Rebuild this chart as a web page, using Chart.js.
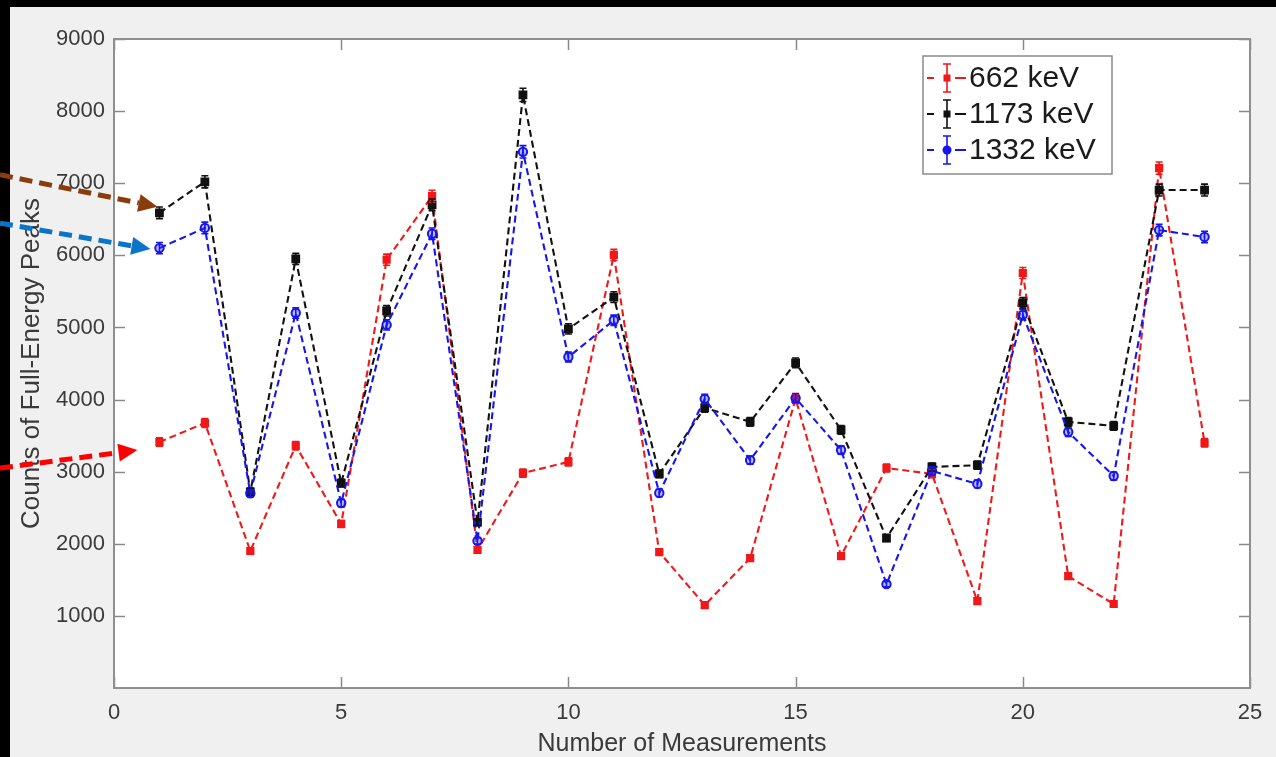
<!DOCTYPE html>
<html>
<head>
<meta charset="utf-8">
<script src="https://cdn.jsdelivr.net/npm/chart.js@4/dist/chart.umd.min.js"></script>
<style>
  html,body{margin:0;padding:0;background:#000;}
  #wrap{width:1276px;height:757px;position:relative;}
  canvas{display:block;}
</style>
</head>
<body>
<div id="wrap"><canvas id="c" width="1276" height="757"></canvas></div>
<script>
// ---------------- data ----------------
const measurements = [1,2,3,4,5,6,7,8,9,10,11,12,13,14,15,16,17,18,19,20,21,22,23,24];
const seriesLabels = ['662 keV','1173 keV','1332 keV'];
const counts662  = [3410,3675,1900,3360,2275,5940,6820,1915,2980,3135,6005,1885,1150,1800,4010,1830,3050,2970,1205,5755,1550,1165,7210,3400];
const counts1173 = [6590,7020,2720,5950,2840,5230,6700,2300,8225,4980,5420,2970,3885,3690,4510,3580,2080,3065,3090,5340,3690,3635,6905,6905];
const counts1332 = [6100,6380,2700,5200,2565,5035,6300,2040,7435,4590,5100,2705,4010,3160,4020,3300,1440,3010,2830,5175,3550,2940,6350,6255];
const err662  = [58,61,44,58,48,77,83,44,55,56,77,43,34,42,63,43,55,54,35,76,39,34,85,58];
const err1173 = [81,84,52,77,53,72,82,48,91,71,74,54,62,61,67,60,46,55,56,73,61,60,83,83];
const err1332 = [78,80,52,72,51,71,79,45,86,68,71,52,63,56,63,57,38,55,53,72,60,54,80,79];
const xTickValues = [0,5,10,15,20,25];
const yTickValues = [1000,2000,3000,4000,5000,6000,7000,8000,9000];
const xTitle = 'Number of Measurements';
const yTitle = 'Counts of Full-Energy Peaks';

const FONT = '"Liberation Sans", Arial, Helvetica, sans-serif';
const colors = ['#f01818', '#111111', '#1515f0'];

function pts(arr){ return measurements.map((m,i)=>({x:m, y:arr[i]})); }
const errs = [err662, err1173, err1332];

// --------------- plugins ---------------
const bgPlugin = {
  id:'bg',
  beforeDraw(chart){
    const ctx = chart.ctx, a = chart.chartArea;
    ctx.save();
    ctx.fillStyle = '#000';
    ctx.fillRect(0,0,chart.width,chart.height);
    ctx.fillStyle = '#f0f0f0';
    ctx.fillRect(10,7,chart.width-10,chart.height-7);
    ctx.fillStyle = '#ffffff';
    ctx.fillRect(a.left,a.top,a.right-a.left,a.bottom-a.top);
    ctx.restore();
  },
  beforeDatasetsDraw(chart){
    const ctx = chart.ctx, a = chart.chartArea;
    const xs = chart.scales.x, ys = chart.scales.y;
    ctx.save();
    ctx.strokeStyle = '#8a8a8a';
    ctx.lineWidth = 1.5;
    ctx.beginPath();
    xTickValues.forEach(v=>{
      const px = Math.round(xs.getPixelForValue(v))+0.5;
      ctx.moveTo(px,a.bottom); ctx.lineTo(px,a.bottom-11);
      ctx.moveTo(px,a.top); ctx.lineTo(px,a.top+11);
    });
    yTickValues.forEach(v=>{
      const py = Math.round(ys.getPixelForValue(v))+0.5;
      ctx.moveTo(a.left,py); ctx.lineTo(a.left+11,py);
      ctx.moveTo(a.right,py); ctx.lineTo(a.right-11,py);
    });
    ctx.stroke();
    ctx.lineWidth = 2;
    ctx.strokeStyle = '#8f8f8f';
    ctx.strokeRect(a.left,a.top,a.right-a.left,a.bottom-a.top);
    ctx.restore();
  }
};

const errPlugin = {
  id:'errbars',
  afterDatasetsDraw(chart){
    const ctx = chart.ctx;
    const xs = chart.scales.x, ys = chart.scales.y;
    ctx.save();
    chart.data.datasets.forEach((ds,di)=>{
      ctx.strokeStyle = colors[di];
      ctx.lineWidth = 1.6;
      ctx.beginPath();
      ds.data.forEach((p,i)=>{
        const px = xs.getPixelForValue(p.x);
        const y1 = ys.getPixelForValue(p.y - errs[di][i]);
        const y2 = ys.getPixelForValue(p.y + errs[di][i]);
        ctx.moveTo(px,y1); ctx.lineTo(px,y2);
        ctx.moveTo(px-3.5,y1); ctx.lineTo(px+3.5,y1);
        ctx.moveTo(px-3.5,y2); ctx.lineTo(px+3.5,y2);
      });
      ctx.stroke();
    });
    ctx.restore();
  }
};

const legendPlugin = {
  id:'mlegend',
  afterDraw(chart){
    const ctx = chart.ctx;
    const bx = 923, by = 56, bw = 189, bh = 118;
    ctx.save();
    ctx.fillStyle = '#fff';
    ctx.fillRect(bx,by,bw,bh);
    ctx.strokeStyle = '#8a8a8a';
    ctx.lineWidth = 1.5;
    ctx.strokeRect(bx,by,bw,bh);
    const rows = [78,114,150];
    seriesLabels.forEach((lab,i)=>{
      const cy = rows[i];
      const c = colors[i];
      ctx.strokeStyle = c; ctx.fillStyle = c;
      ctx.lineWidth = 2.2;
      ctx.beginPath();
      ctx.moveTo(927,cy); ctx.lineTo(934,cy);
      ctx.moveTo(955,cy); ctx.lineTo(966,cy);
      ctx.stroke();
      ctx.lineWidth = 1.6;
      ctx.beginPath();
      ctx.moveTo(947,cy-14); ctx.lineTo(947,cy+14);
      ctx.moveTo(943,cy-14); ctx.lineTo(951,cy-14);
      ctx.moveTo(943,cy+14); ctx.lineTo(951,cy+14);
      ctx.stroke();
      ctx.beginPath();
      if(i===2){ ctx.arc(947,cy,4.5,0,Math.PI*2); ctx.fill(); }
      else { ctx.fillRect(943.5,cy-3.5,7,7); }
      ctx.fillStyle = '#1a1a1a';
      ctx.font = '30px ' + FONT;
      ctx.textBaseline = 'middle';
      ctx.textAlign = 'left';
      ctx.fillText(lab, 969, cy+1);
    });
    ctx.restore();
  }
};

function drawArrow(ctx, x0,y0,x1,y1,color){
  const dx = x1-x0, dy = y1-y0, L = Math.hypot(dx,dy);
  const ux = dx/L, uy = dy/L;
  const hl = 19, hw = 9;
  const bxp = x1-ux*hl, byp = y1-uy*hl;
  ctx.save();
  ctx.strokeStyle = color; ctx.fillStyle = color;
  ctx.lineWidth = 5;
  ctx.setLineDash([13,7]);
  ctx.beginPath(); ctx.moveTo(x0,y0); ctx.lineTo(bxp,byp); ctx.stroke();
  ctx.setLineDash([]);
  ctx.beginPath();
  ctx.moveTo(x1,y1);
  ctx.lineTo(bxp - uy*hw, byp + ux*hw);
  ctx.lineTo(bxp + uy*hw, byp - ux*hw);
  ctx.closePath(); ctx.fill();
  ctx.restore();
}

const arrowPlugin = {
  id:'arrows',
  afterDraw(chart){
    const ctx = chart.ctx;
    const xs = chart.scales.x, ys = chart.scales.y;
    const px = xs.getPixelForValue(measurements[0]);
    const pBlack = ys.getPixelForValue(counts1173[0]);
    const pBlue  = ys.getPixelForValue(counts1332[0]);
    const pRed   = ys.getPixelForValue(counts662[0]);
    drawArrow(ctx, 0, pBlack-38, px-2, pBlack-6, '#8a3d0c');
    drawArrow(ctx, 0, pBlue-25, px-9, pBlue+1, '#0a74c8');
    drawArrow(ctx, 0, pRed+26, px-22, pRed+8, '#ff0000');
  }
};

// --------------- chart ---------------
function mkDs(i, arr, style, radius, order){
  return {
    label: seriesLabels[i],
    data: pts(arr),
    borderColor: colors[i],
    backgroundColor: colors[i],
    borderWidth: 2.1,
    borderDash: [7,4],
    pointStyle: style,
    pointRadius: radius,
    pointBorderWidth: 2,
    pointBorderColor: colors[i],
    pointBackgroundColor: style==='circle' ? 'rgba(60,60,255,0.35)' : colors[i],
    tension: 0,
    order: order
  };
}

new Chart(document.getElementById('c'), {
  type:'line',
  data:{
    datasets:[
      mkDs(0, counts662, 'rect', 4.4, 2),
      mkDs(1, counts1173, 'rect', 4.8, 1),
      mkDs(2, counts1332, 'circle', 4.2, 0)
    ]
  },
  options:{
    responsive:false,
    animation:false,
    devicePixelRatio:1,
    layout:{padding:{left:0, top:39, right:26, bottom:0}},
    plugins:{legend:{display:false}, tooltip:{enabled:false}},
    scales:{
      x:{
        type:'linear', min:0, max:25,
        afterBuildTicks(s){ s.ticks = xTickValues.map(v=>({value:v})); },
        afterFit(s){ s.height = 69; },
        grid:{display:false, drawTicks:false},
        border:{display:false},
        ticks:{padding:12, color:'#3a3a3a', font:{family:FONT, size:22}, maxRotation:0, autoSkip:false,
               callback:(v)=>String(v)},
        title:{display:true, text:xTitle, color:'#3a3a3a', font:{family:FONT, size:25, lineHeight:1.0}, padding:{top:0,bottom:0}}
      },
      y:{
        type:'linear', min:0, max:9000,
        afterBuildTicks(s){ s.ticks = yTickValues.map(v=>({value:v})); },
        afterFit(s){ s.width = 114; },
        grid:{display:false, drawTicks:false},
        border:{display:false},
        ticks:{padding:9, color:'#3a3a3a', font:{family:FONT, size:22}, autoSkip:false,
               callback:(v)=>String(v)},
        title:{display:true, text:yTitle, color:'#3a3a3a', font:{family:FONT, size:26, lineHeight:1.2}, padding:{top:16,bottom:0}}
      }
    }
  },
  plugins:[bgPlugin, errPlugin, legendPlugin, arrowPlugin]
});
</script>
</body>
</html>
